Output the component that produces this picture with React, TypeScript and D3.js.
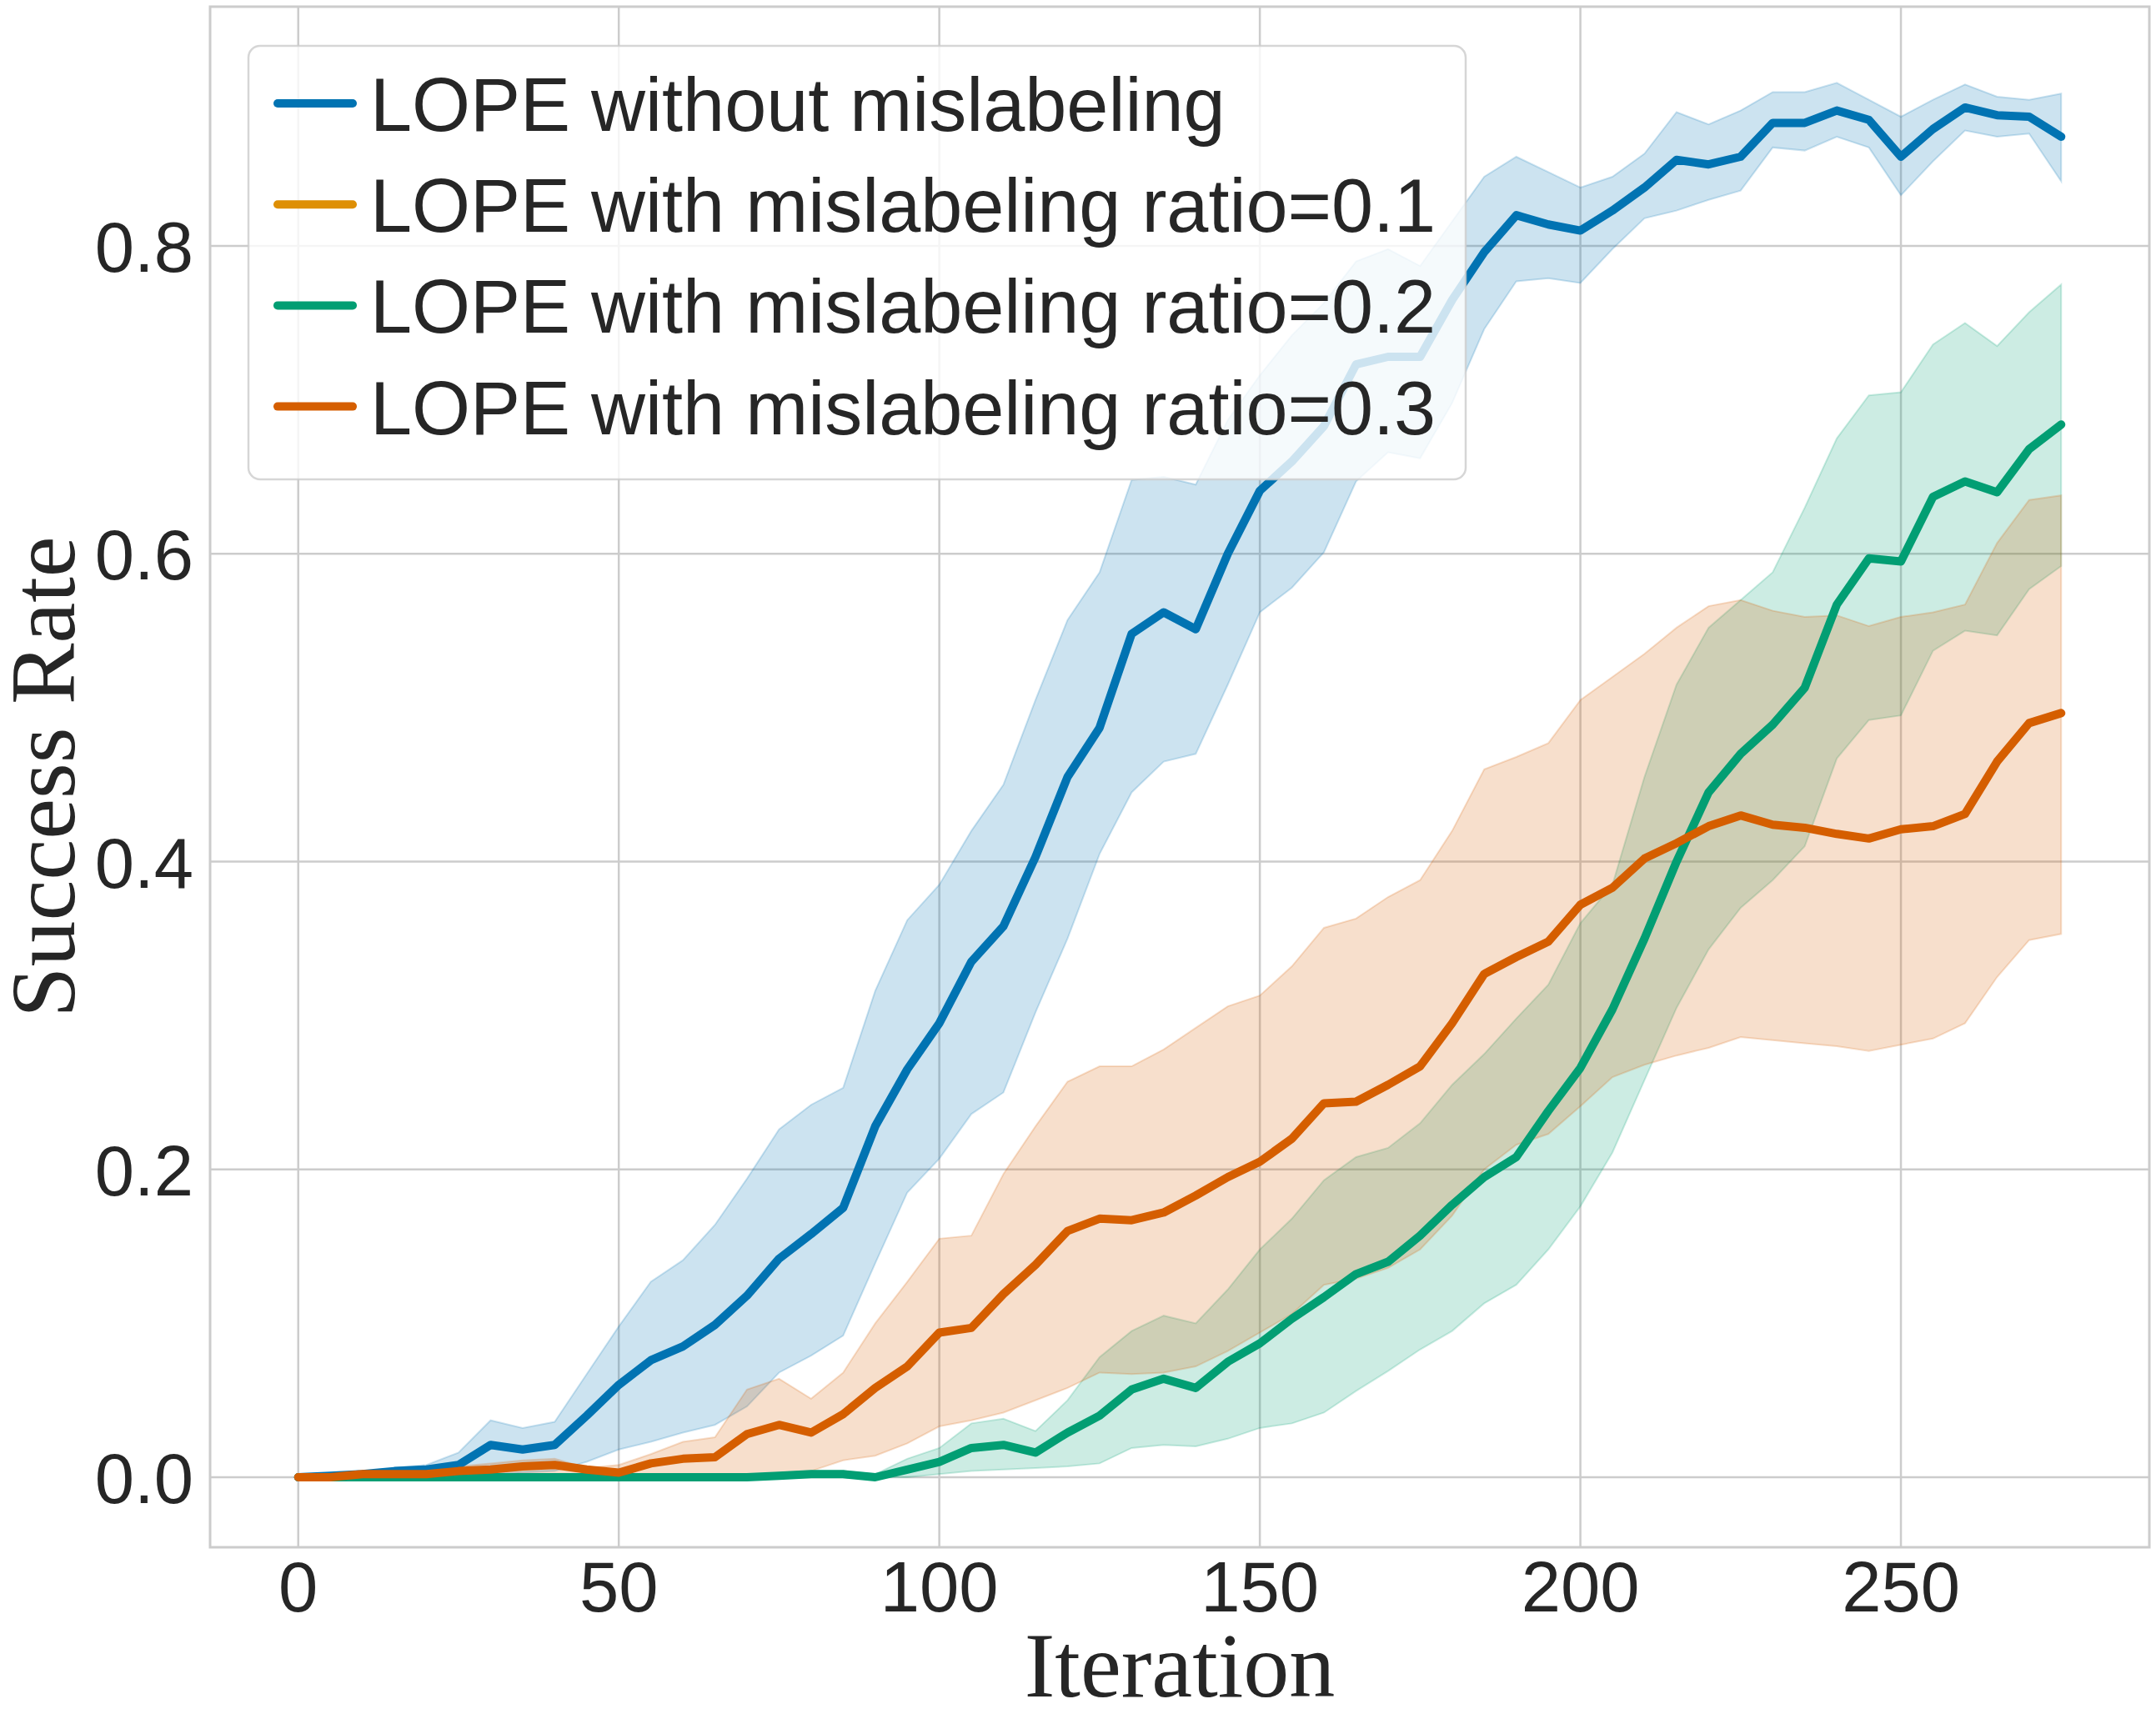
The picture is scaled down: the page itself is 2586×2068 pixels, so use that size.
import * as d3 from 'd3';

const WIDTH = 2586;
const HEIGHT = 2068;

// plot frame (pixels)
const plotLeft = 252;
const plotRight = 2578;
const plotTop = 8;
const plotBottom = 1856;

const iterations = [
  0, 5, 10, 15, 20, 25, 30, 35, 40, 45,
  50, 55, 60, 65, 70, 75, 80, 85, 90, 95,
  100, 105, 110, 115, 120, 125, 130, 135, 140, 145,
  150, 155, 160, 165, 170, 175, 180, 185, 190, 195,
  200, 205, 210, 215, 220, 225, 230, 235, 240, 245,
  250, 255, 260, 265, 270, 275,
];

// LOPE without mislabeling
const cleanMean = [
  0, 0.001, 0.002, 0.004, 0.005, 0.008, 0.021, 0.018, 0.021, 0.04,
  0.06, 0.076, 0.085, 0.099, 0.118, 0.142, 0.158, 0.175, 0.228, 0.265,
  0.295, 0.335, 0.358, 0.403, 0.455, 0.487, 0.548, 0.562, 0.551, 0.6,
  0.641, 0.66, 0.683, 0.723, 0.728, 0.728, 0.765, 0.796, 0.82, 0.814,
  0.81, 0.823, 0.838, 0.856, 0.853, 0.858, 0.88, 0.88, 0.888, 0.882,
  0.858, 0.876, 0.89, 0.885, 0.884, 0.871,
];
const cleanLower = [
  0, 0, 0, 0, 0, 0, 0.001, 0.003, 0.004, 0.01,
  0.018, 0.023, 0.029, 0.034, 0.046, 0.068, 0.079, 0.092, 0.139, 0.185,
  0.207, 0.236, 0.25, 0.302, 0.35, 0.405, 0.445, 0.465, 0.47, 0.515,
  0.562, 0.578, 0.601, 0.647, 0.666, 0.662, 0.698, 0.746, 0.777, 0.779,
  0.776, 0.798, 0.818, 0.823, 0.83, 0.836, 0.864, 0.862, 0.871, 0.864,
  0.833, 0.855, 0.875, 0.871, 0.873, 0.842,
];
const cleanUpper = [
  0, 0.001, 0.003, 0.006, 0.008, 0.016, 0.037, 0.032, 0.036, 0.067,
  0.098, 0.127, 0.141, 0.164, 0.194, 0.226, 0.242, 0.253, 0.316, 0.362,
  0.385, 0.42, 0.45, 0.505, 0.557, 0.588, 0.648, 0.65, 0.645, 0.687,
  0.716, 0.742, 0.763, 0.79, 0.798, 0.787, 0.816, 0.845, 0.858, 0.848,
  0.838, 0.845, 0.86, 0.887, 0.879, 0.888, 0.9, 0.9, 0.906, 0.895,
  0.884, 0.895, 0.905, 0.897, 0.895, 0.899,
];

// ratio = 0.1 : no curve visible in the figure, legend entry only
const ratio01Mean: number[] = [];
const ratio01Lower: number[] = [];
const ratio01Upper: number[] = [];

// ratio = 0.2
const ratio02Mean = [
  0, 0, 0, 0, 0, 0, 0, 0, 0, 0,
  0, 0, 0, 0, 0, 0.001, 0.002, 0.002, 0, 0.005,
  0.01, 0.019, 0.021, 0.016, 0.029, 0.04, 0.057, 0.064, 0.058, 0.075,
  0.087, 0.103, 0.117, 0.132, 0.14, 0.157, 0.177, 0.195, 0.208, 0.238,
  0.266, 0.304, 0.35, 0.4, 0.445, 0.47, 0.489, 0.513, 0.567, 0.597,
  0.595, 0.637, 0.647, 0.64, 0.668, 0.684,
];
const ratio02Lower = [
  0, 0, 0, 0, 0, 0, 0, 0, 0, 0,
  0, 0, 0, 0, 0, 0, 0, 0, 0, 0,
  0.002, 0.004, 0.005, 0.006, 0.007, 0.009, 0.019, 0.021, 0.02, 0.025,
  0.032, 0.035, 0.042, 0.056, 0.069, 0.083, 0.095, 0.113, 0.125, 0.148,
  0.176, 0.211, 0.258, 0.305, 0.343, 0.37, 0.388, 0.41, 0.467, 0.492,
  0.495, 0.537, 0.55, 0.547, 0.577, 0.592,
];
const ratio02Upper = [
  0, 0, 0, 0, 0, 0, 0, 0, 0, 0,
  0, 0, 0, 0, 0, 0.003, 0.004, 0.004, 0.002, 0.012,
  0.019, 0.035, 0.038, 0.03, 0.05, 0.078, 0.095, 0.105, 0.1, 0.122,
  0.148, 0.168, 0.193, 0.208, 0.214, 0.23, 0.255, 0.275, 0.298, 0.32,
  0.36, 0.385, 0.455, 0.515, 0.552, 0.57, 0.588, 0.63, 0.675, 0.703,
  0.705, 0.736, 0.75, 0.735, 0.757, 0.775,
];

// ratio = 0.3
const ratio03Mean = [
  0, 0, 0.002, 0.002, 0.002, 0.004, 0.005, 0.007, 0.008, 0.005,
  0.003, 0.009, 0.012, 0.013, 0.028, 0.034, 0.029, 0.041, 0.058, 0.072,
  0.094, 0.097, 0.119, 0.138, 0.16, 0.168, 0.167, 0.172, 0.183, 0.195,
  0.205, 0.22, 0.243, 0.244, 0.255, 0.267, 0.295, 0.327, 0.338, 0.348,
  0.372, 0.383, 0.402, 0.412, 0.423, 0.43, 0.424, 0.422, 0.418, 0.415,
  0.421, 0.423, 0.431, 0.465, 0.49, 0.4965,
];
const ratio03Lower = [
  0, 0, 0, 0, 0, 0, 0, 0, 0, 0,
  0, 0, 0, 0, 0, 0, 0.004, 0.011, 0.014, 0.022,
  0.033, 0.037, 0.042, 0.05, 0.058, 0.068, 0.067, 0.068, 0.072, 0.082,
  0.094, 0.106, 0.125, 0.129, 0.136, 0.148, 0.17, 0.2, 0.216, 0.223,
  0.241, 0.26, 0.268, 0.274, 0.279, 0.286, 0.284, 0.282, 0.28, 0.277,
  0.281, 0.285, 0.295, 0.325, 0.349, 0.353,
];
const ratio03Upper = [
  0, 0.001, 0.004, 0.004, 0.004, 0.007, 0.009, 0.011, 0.012, 0.006,
  0.008, 0.015, 0.023, 0.026, 0.057, 0.064, 0.051, 0.068, 0.1, 0.127,
  0.155, 0.157, 0.197, 0.228, 0.257, 0.267, 0.267, 0.278, 0.292, 0.306,
  0.313, 0.332, 0.357, 0.363, 0.377, 0.388, 0.42, 0.46, 0.468, 0.477,
  0.505, 0.52, 0.535, 0.552, 0.566, 0.57, 0.563, 0.559, 0.56, 0.553,
  0.559, 0.562, 0.567, 0.607, 0.635, 0.638,
];

const seriesLabels = [
  'LOPE without mislabeling',
  'LOPE with mislabeling ratio=0.1',
  'LOPE with mislabeling ratio=0.2',
  'LOPE with mislabeling ratio=0.3',
];
const seriesColors = ['#0173b2', '#de8f05', '#029e73', '#d55e00'];

const xTicks = [0, 50, 100, 150, 200, 250];
const yTicks = [0, 0.2, 0.4, 0.6, 0.8];

const sans = "'Liberation Sans', Arial, Helvetica, sans-serif";
const serif = "'Liberation Serif', 'Times New Roman', serif";
const textColor = '#262626';
const gridColor = '#cccccc';

export default function App() {
  const series = [
    { mean: cleanMean, lower: cleanLower, upper: cleanUpper },
    { mean: ratio01Mean, lower: ratio01Lower, upper: ratio01Upper },
    { mean: ratio02Mean, lower: ratio02Lower, upper: ratio02Upper },
    { mean: ratio03Mean, lower: ratio03Lower, upper: ratio03Upper },
  ].map((s, i) => ({ ...s, label: seriesLabels[i], color: seriesColors[i] }));

  // matplotlib-style 5% margins around the data
  const x = d3.scaleLinear().domain([-13.75, 288.75]).range([plotLeft, plotRight]);
  const y = d3.scaleLinear().domain([-0.0455, 0.9555]).range([plotBottom, plotTop]);

  const line = (vals: number[]) =>
    d3
      .line<number>()
      .x((_, i) => x(iterations[i]))
      .y((d) => y(d))(vals) || '';

  const band = (lo: number[], hi: number[]) =>
    d3
      .area<number>()
      .x((_, i) => x(iterations[i]))
      .y0((d) => y(d))
      .y1((_, i) => y(hi[i]))(lo) || '';

  const fmt = d3.format('.1f');

  // legend layout
  const legX = 298;
  const legY = 55;
  const legW = 1460;
  const legH = 520;
  const rowY0 = 124;
  const rowStep = 121.2;

  return (
    <div style={{ position: 'absolute', left: 0, top: 0 }}>
      <svg width={WIDTH} height={HEIGHT} style={{ display: 'block', background: '#ffffff' }}>
        <rect x={0} y={0} width={WIDTH} height={HEIGHT} fill="#ffffff" />

        {/* grid */}
        {xTicks.map((t) => (
          <line key={'gx' + t} x1={x(t)} x2={x(t)} y1={plotTop} y2={plotBottom} stroke={gridColor} strokeWidth={2.5} />
        ))}
        {yTicks.map((t) => (
          <line key={'gy' + t} x1={plotLeft} x2={plotRight} y1={y(t)} y2={y(t)} stroke={gridColor} strokeWidth={2.5} />
        ))}

        {/* error bands */}
        {series.map((s) =>
          s.mean.length ? (
            <path
              key={'band' + s.label}
              d={band(s.lower, s.upper)}
              fill={s.color}
              fillOpacity={0.2}
              stroke={s.color}
              strokeOpacity={0.2}
              strokeWidth={2}
            />
          ) : null
        )}

        {/* mean lines */}
        {series.map((s) =>
          s.mean.length ? (
            <path
              key={'line' + s.label}
              d={line(s.mean)}
              fill="none"
              stroke={s.color}
              strokeWidth={10}
              strokeLinejoin="round"
              strokeLinecap="round"
            />
          ) : null
        )}

        {/* frame */}
        <rect
          x={plotLeft}
          y={plotTop}
          width={plotRight - plotLeft}
          height={plotBottom - plotTop}
          fill="none"
          stroke={gridColor}
          strokeWidth={3}
        />

        {/* tick labels */}
        {xTicks.map((t) => (
          <text key={'tx' + t} x={x(t)} y={1933} textAnchor="middle" fontFamily={sans} fontSize={85} fill={textColor}>
            {t}
          </text>
        ))}
        {yTicks.map((t) => (
          <text key={'ty' + t} x={232} y={y(t) + 31} textAnchor="end" fontFamily={sans} fontSize={85} fill={textColor}>
            {fmt(t)}
          </text>
        ))}

        {/* axis titles */}
        <text x={(plotLeft + plotRight) / 2} y={2035} textAnchor="middle" fontFamily={serif} fontSize={110} fill={textColor}>
          Iteration
        </text>
        <text
          transform={`translate(89, ${(plotTop + plotBottom) / 2}) rotate(-90)`}
          textAnchor="middle"
          fontFamily={serif}
          fontSize={110}
          fill={textColor}
        >
          Success Rate
        </text>

        {/* legend */}
        <rect
          x={legX}
          y={legY}
          width={legW}
          height={legH}
          rx={14}
          fill="#ffffff"
          fillOpacity={0.8}
          stroke={gridColor}
          strokeOpacity={0.8}
          strokeWidth={2.5}
        />
        {series.map((s, i) => {
          const cy = rowY0 + i * rowStep;
          return (
            <g key={'leg' + s.label}>
              <line x1={333} x2={423} y1={cy} y2={cy} stroke={s.color} strokeWidth={10} strokeLinecap="round" />
              <text x={444} y={cy + 33} fontFamily={sans} fontSize={90} fill={textColor}>
                {s.label}
              </text>
            </g>
          );
        })}
      </svg>
    </div>
  );
}
